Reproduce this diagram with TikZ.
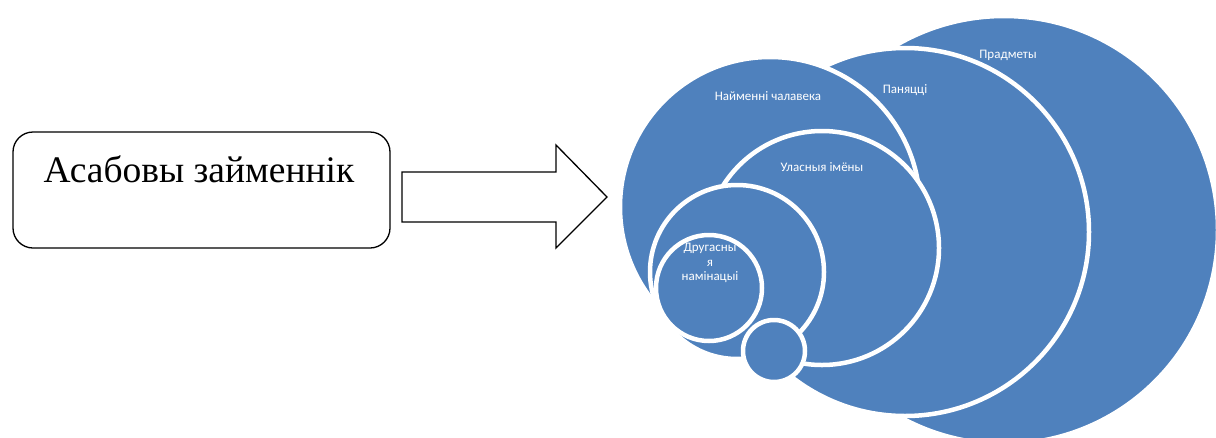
\documentclass[tikz,border=0pt]{standalone}
\usepackage{fontspec}
\setmainfont{Liberation Serif}
\newfontfamily\lblfont{Carlito}
\definecolor{sablue}{HTML}{4F81BD}
\begin{document}
\begin{tikzpicture}[x=1pt,y=-1pt,
  ring/.style={circle,fill=sablue,draw=white,line width=4.5pt,inner sep=0pt},
  lbl/.style={text=white,font=\lblfont\fontsize{13}{14.5}\selectfont,inner sep=0pt,align=center},
  outl/.style={draw=black,line width=1.3pt,line join=miter}]
\useasboundingbox (0,0) rectangle (1216,437);
\begin{scope}
\clip (0,0) rectangle (1216,437);
\node[ring,minimum size=428pt] (pradm) at (1004,230) {};
\node[ring,minimum size=368pt] (panya) at (905,232) {};
\node[ring,minimum size=300pt] (naim) at (770,207) {};
\node[ring,minimum size=234pt] (ulas) at (822,248) {};
\node[ring,minimum size=174pt] (mid) at (737,272) {};
\node[ring,minimum size=106pt] (drug) at (709,288) {};
\node[ring,minimum size=62pt] (small) at (774,351) {};
\end{scope}
\node[lbl] (tpradm) at (1008,55) {Прадметы};
\node[lbl] (tpanya) at (905,90) {Паняцці};
\node[lbl] (tnaim) at (768,96) {Найменні чалавека};
\node[lbl] (tulas) at (822,167) {Уласныя імёны};
\node[lbl] (tdrug) at (710,263) {Другасны\\я\\намінацыі};
% box
\node[outl,rounded corners=20pt,minimum width=377pt,minimum height=116pt,inner sep=0pt] (box) at (201.5,190) {};
\node[font=\fontsize{37.5}{45}\selectfont,anchor=base,inner sep=0pt] (boxtext) at (199,182) {Асабовы займеннік};
% block arrow
\draw[outl] (402,172) -- (556,172) -- (556,145) -- (607,197) -- (556,248) -- (556,222) -- (402,222) -- cycle;
\end{tikzpicture}
\end{document}
